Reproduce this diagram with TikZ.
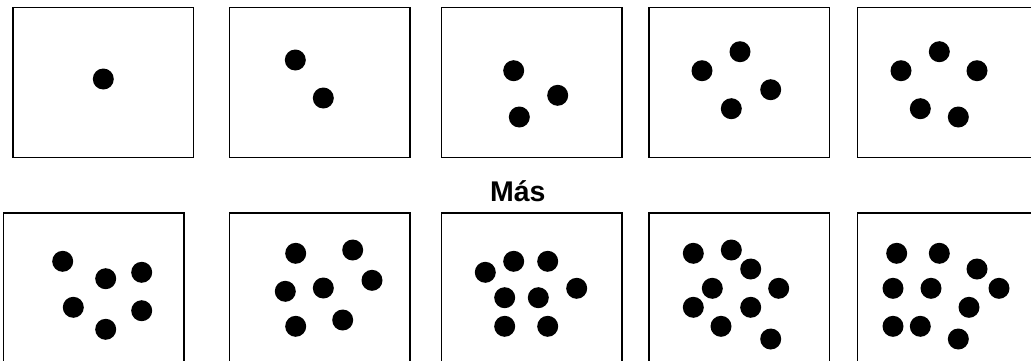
\documentclass[tikz,border=0pt]{standalone}
\usepackage{fontspec}
\setmainfont{Liberation Sans}

\begin{document}
\begin{tikzpicture}[
  x=1pt,y=-1pt,
  panel/.style={draw,line width=1.5pt,minimum width=180.5pt,minimum height=150pt,inner sep=0pt,anchor=north west},
  dot/.style={circle,fill=black,minimum size=21pt,inner sep=0pt},
  caption/.style={font=\bfseries\fontsize{28.5}{32}\selectfont,anchor=base,inner sep=0pt}
]
  \useasboundingbox (0,0) rectangle (1031,360);
  % panels
  \foreach \p/\x in {1/12,2/228.7,3/440.7,4/648,5/856.7}
    \node[panel] (top\p) at (\x,6.7) {};
  \foreach \p/\x in {1/2.7,2/228.7,3/440.7,4/648,5/856.7}
    \node[panel] (bot\p) at (\x,212) {};
  % dots, top row
  \foreach \x/\y [count=\i] in {103.3/79,
      295.3/60, 323.3/98,
      513.7/70.7, 557.7/95.3, 519.3/117,
      702/70.7, 740/51.7, 770.7/89.7, 731.3/108.7,
      901/70.7, 939.3/51.7, 977/70.7, 920.3/108.7, 958.3/117}
    \node[dot] (t\i) at (\x,\y) {};
  % dots, bottom row
  \foreach \x/\y [count=\i] in {62.7/261.3, 105.7/278.7, 141.7/272.3, 73.3/307.3, 141.7/310.7, 105.7/329.3,
      295.7/253.3, 352.7/250, 372/280.3, 285.3/291.3, 323.3/288, 342.7/320, 295.7/326.3,
      485.3/272.3, 513.7/261.3, 547.7/261.3, 576.7/288.3, 504.7/297.7, 538.3/297.7, 504.7/326.3, 547.7/326.3,
      693.3/253.3, 731.3/250, 750.7/269, 712.3/288.3, 778.7/288.3, 693.3/307.3, 750.7/307.3, 721/326.3, 770.7/339,
      896.7/253.3, 939.3/253.3, 977/269, 893/288.3, 931/288.3, 999/288.3, 969/307.3, 893/326.3, 920.3/326.3, 958.3/339}
    \node[dot] (b\i) at (\x,\y) {};
  \node[caption] (more) at (517.8,201.5) {Más};
\end{tikzpicture}
\end{document}
